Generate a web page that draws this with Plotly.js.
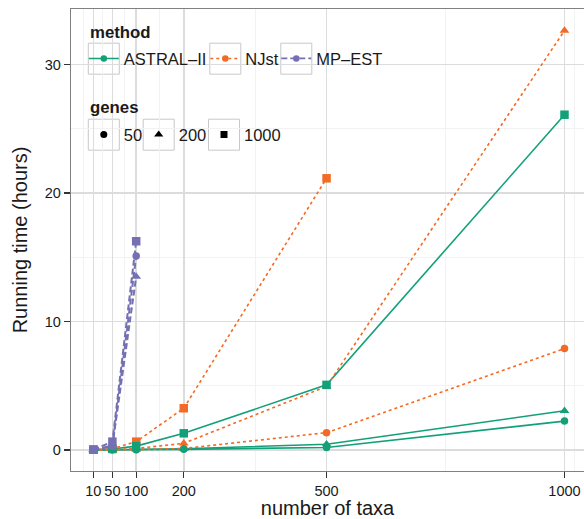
<!DOCTYPE html>
<html><head><meta charset="utf-8">
<script src="https://cdn.plot.ly/plotly-3.0.1.min.js"></script>
<style>html,body{margin:0;padding:0;overflow:hidden;background:#fff}</style>
</head><body><div id="chart" style="width:584px;height:519px"></div>
<script>
// ---- data ----
const taxa = [10, 50, 100, 200, 500, 1000];
const methods = ['ASTRAL–II', 'NJst', 'MP–EST'];
const genes = ['50', '200', '1000'];
// running time (hours); one value per taxa entry, null = not run
const astral50   = [0, 0.01, 0.02, 0.05, 0.2, 2.25];
const astral200  = [0, 0.02, 0.05, 0.1, 0.45, 3.05];
const astral1000 = [0.02, 0.08, 0.3, 1.3, 5.07, 26.1];
const njst50     = [0, 0.01, 0.03, 0.12, 1.35, 7.9];
const njst200    = [0.01, 0.03, 0.12, 0.52, 4.95, 32.65];
const njst1000   = [0.02, 0.1, 0.65, 3.25, 21.15, null];
const mpest50    = [0, 0.3, 15.1, null, null, null];
const mpest200   = [0, 0.35, 13.5, null, null, null];
const mpest1000  = [0.02, 0.65, 16.25, null, null, null];
const xTicks = [10, 50, 100, 200, 500, 1000];
const xMinor = [-10, 30, 75, 150, 350, 750, 1020];
const yTicks = [0, 10, 20, 30];
const yMinor = [5, 15, 25];

// ---- styles ----
const FONT = 'Liberation Sans, Arial, Helvetica, sans-serif';
const colors = {'ASTRAL–II': '#12A079', 'NJst': '#F26A25', 'MP–EST': '#7570B3'};
const dashes = {'ASTRAL–II': 'solid', 'NJst': '3px,3px', 'MP–EST': '6px,3px'};
const widths = {'ASTRAL–II': 1.6, 'NJst': 1.6, 'MP–EST': 2};
const symbols = {'50': 'circle', '200': 'triangle-up', '1000': 'square'};
const sizes = {'50': 7.5, '200': 8.5, '1000': 8.5};
const series = {
  'ASTRAL–II': {'50': astral50, '200': astral200, '1000': astral1000},
  'NJst': {'50': njst50, '200': njst200, '1000': njst1000},
  'MP–EST': {'50': mpest50, '200': mpest200, '1000': mpest1000}
};

const traces = [];
// lines first (like a line layer), then points
methods.forEach(m => genes.forEach(g => {
  traces.push({x: taxa, y: series[m][g], type: 'scatter', mode: 'lines', showlegend: false,
    hoverinfo: 'skip', line: {color: colors[m], width: widths[m], dash: dashes[m]}});
}));
['NJst', 'ASTRAL–II', 'MP–EST'].forEach(m => genes.forEach(g => {
  traces.push({x: taxa, y: series[m][g], type: 'scatter', mode: 'markers', showlegend: false,
    marker: {color: colors[m], symbol: symbols[g], size: sizes[g], line: {width: 0}}});
}));
// legend entries
const legIds = ['legend', 'legend2', 'legend3', 'legend4', 'legend5', 'legend6'];
methods.forEach((m, i) => traces.push({x: [null], y: [null], type: 'scatter', mode: 'lines+markers',
  name: m, legend: legIds[i], line: {color: colors[m], width: widths[m] - 0.2, dash: dashes[m]},
  marker: {color: colors[m], symbol: 'circle', size: 6.5}}));
genes.forEach((g, i) => traces.push({x: [null], y: [null], type: 'scatter', mode: 'markers',
  name: g, legend: legIds[3 + i], marker: {color: '#000', symbol: symbols[g], size: g === '200' ? 8 : 7}}));

// ---- layout geometry ----
const W = 584, H = 519, L = 71, T = 9, B = 48, R = 0;
const pw = W - L - R, ph = H - T - B;
const px = p => (p - L) / pw;
const py = p => (H - B - p) / ph;

const legendLefts = [83.8, 205.3, 276.3, 83.8, 138.7, 204];
const legendMid = [58.7, 58.7, 58.7, 134.7, 134.7, 134.7];
const layout = {
  width: W, height: H, margin: {l: L, r: R, t: T, b: B},
  paper_bgcolor: '#fff', plot_bgcolor: '#fff',
  font: {family: FONT, color: '#1a1a1a'},
  xaxis: {range: [-37, 1041], tickmode: 'array', tickvals: xTicks, ticktext: xTicks.map(String),
    showgrid: true, gridcolor: '#DCDCDC', gridwidth: 1.5, zeroline: false,
    minor: {tickmode: 'array', tickvals: xMinor, showgrid: true, gridcolor: '#F2F2F2', gridwidth: 1, ticks: ''},
    showline: true, mirror: true, linecolor: '#808080', linewidth: 1.3,
    ticks: 'outside', ticklen: 6, tickwidth: 1.2, tickcolor: '#333',
    tickfont: {size: 14.5, color: '#1a1a1a'},
    title: {text: 'number of taxa', font: {size: 20, color: '#1a1a1a'}, standoff: 7}, automargin: false},
  yaxis: {range: [-1.635, 34.33], tickmode: 'array', tickvals: yTicks, ticktext: yTicks.map(String),
    showgrid: true, gridcolor: '#DCDCDC', gridwidth: 1.5, zeroline: false,
    minor: {tickmode: 'array', tickvals: yMinor, showgrid: true, gridcolor: '#F2F2F2', gridwidth: 1, ticks: ''},
    showline: true, mirror: false, linecolor: '#808080', linewidth: 1.3,
    ticks: 'outside', ticklen: 6, tickwidth: 1.2, tickcolor: '#333',
    tickfont: {size: 14.5, color: '#1a1a1a'},
    title: {text: 'Running time (hours)', font: {size: 20, color: '#1a1a1a'}, standoff: 11}, automargin: false},
  shapes: [],
  annotations: [
    {text: '<b>method</b>', xref: 'paper', yref: 'paper', x: px(87.5), y: py(32.5), xanchor: 'left', yanchor: 'middle',
      showarrow: false, font: {size: 16.8, family: FONT, color: '#1a1a1a'}},
    {text: '<b>genes</b>', xref: 'paper', yref: 'paper', x: px(87.5), y: py(107), xanchor: 'left', yanchor: 'middle',
      showarrow: false, font: {size: 16.8, family: FONT, color: '#1a1a1a'}}
  ],
  showlegend: true
};
// legend backgrounds (cover grid lines)
layout.shapes.push({type: 'rect', xref: 'paper', yref: 'paper', x0: px(78), x1: px(392), y0: py(83), y1: py(18),
  fillcolor: '#fff', line: {width: 0}, layer: 'between'});
layout.shapes.push({type: 'rect', xref: 'paper', yref: 'paper', x0: px(78), x1: px(289), y0: py(154), y1: py(92),
  fillcolor: '#fff', line: {width: 0}, layer: 'between'});
legIds.forEach((id, i) => {
  layout[id] = {x: px(legendLefts[i]), y: py(legendMid[i]), xanchor: 'left', yanchor: 'middle',
    orientation: 'v', bgcolor: 'rgba(0,0,0,0)', borderwidth: 0, itemclick: false, itemdoubleclick: false,
    font: {family: FONT, size: 16.5, color: '#1a1a1a'}};
  const cx = legendLefts[i] + 20, cy = legendMid[i];
  layout.shapes.push({type: 'rect', xref: 'paper', yref: 'paper', x0: px(cx - 15.5), x1: px(cx + 15.5),
    y0: py(cy + 15.5), y1: py(cy - 15.5), fillcolor: '#fff', line: {color: '#C8C8C8', width: 1}, layer: 'between'});
});

Plotly.newPlot('chart', traces, layout, {staticPlot: true, displayModeBar: false});
</script></body></html>
